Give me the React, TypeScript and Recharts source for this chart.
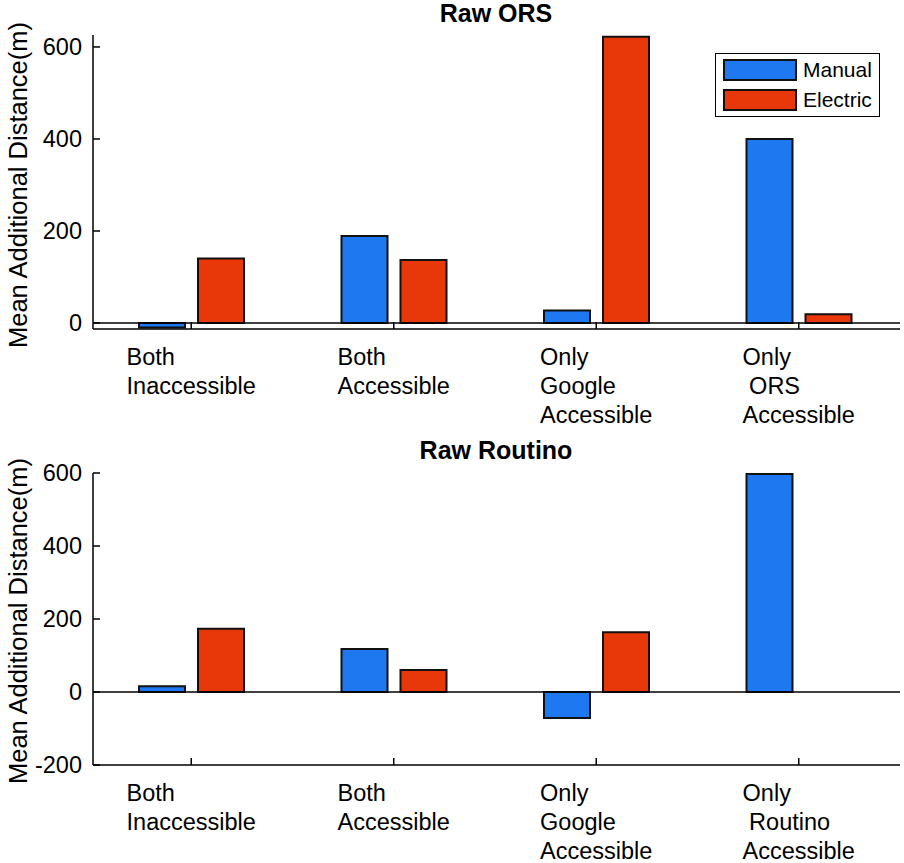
import React from 'react'
import { BarChart, Bar, XAxis, YAxis, ReferenceLine } from 'recharts'

const categories = ['Both Inaccessible', 'Both Accessible', 'Only Google Accessible', 'Only Target Accessible']

const orsTickLines = [
  ['Both', 'Inaccessible'],
  ['Both', 'Accessible'],
  ['Only', 'Google', 'Accessible'],
  ['Only', ' ORS', 'Accessible'],
]
const routinoTickLines = [
  ['Both', 'Inaccessible'],
  ['Both', 'Accessible'],
  ['Only', 'Google', 'Accessible'],
  ['Only', ' Routino', 'Accessible'],
]

const orsManual = [-10, 189, 27, 400]
const orsElectric = [140, 137, 622, 19]
const routinoManual = [16, 118, -71, 597]
const routinoElectric = [173, 60, 164, 0]

const orsTicks = [0, 200, 400, 600]
const routinoTicks = [-200, 0, 200, 400, 600]

const BLUE = '#1e78f0'
const RED = '#e8380a'
const FONT = '"Liberation Sans", Arial, Helvetica, sans-serif'
const TICK_FONT_SIZE = 23.5

let ctx: CanvasRenderingContext2D | null = null
function measure(s: string) {
  if (!ctx) ctx = document.createElement('canvas').getContext('2d')
  if (!ctx) return s.length * 11
  ctx.font = `${TICK_FONT_SIZE}px ${FONT}`
  return ctx.measureText(s).width
}

function buildData(manual: number[], electric: number[]) {
  return categories.map((c, i) => ({ name: c, manual: manual[i], electric: electric[i] }))
}

function makeXTick(lines: string[][]) {
  return (props: any) => {
    const { x, y, payload } = props
    const idx = categories.indexOf(payload.value)
    const ls = lines[idx] || []
    const w = Math.max(...ls.map(measure))
    const left = x - w / 2
    return (
      <g>
        <line x1={x} x2={x} y1={y} y2={y - 7} stroke="#000" strokeWidth={1.5} />
        <text x={left} y={y + 36} fontSize={TICK_FONT_SIZE} fontFamily={FONT} fill="#000" style={{ whiteSpace: 'pre' }}>
          {ls.map((l, i) => (
            <tspan key={i} x={left} dy={i === 0 ? 0 : 29}>{l}</tspan>
          ))}
        </text>
      </g>
    )
  }
}

function YTick(props: any) {
  const { x, y, payload } = props
  return (
    <g>
      <line x1={x} x2={x + 7} y1={y} y2={y} stroke="#000" strokeWidth={1.5} />
      <text x={x - 11} y={y} dy="0.36em" textAnchor="end" fontSize={TICK_FONT_SIZE} fontFamily={FONT} fill="#000">
        {payload.value}
      </text>
    </g>
  )
}

function Panel({ data, domain, ticks, lines, height, top, xHeight, bottom }: any) {
  return (
    <BarChart
      width={904}
      height={height}
      data={data}
      margin={{ top, right: 4, bottom, left: 53 }}
      barSize={46}
      barGap={13}
    >
      <XAxis
        dataKey="name"
        height={xHeight}
        tickSize={0}
        tickMargin={0}
        tickLine={false}
        interval={0}
        padding={{ left: -3, right: 0 }}
        axisLine={{ stroke: '#000', strokeWidth: 1.5 }}
        tick={makeXTick(lines)}
      />
      <YAxis
        type="number"
        width={40}
        domain={domain}
        ticks={ticks}
        tickSize={0}
        tickMargin={0}
        tickLine={false}
        axisLine={{ stroke: '#000', strokeWidth: 1.5 }}
        tick={YTick}
      />
      <Bar dataKey="manual" fill={BLUE} stroke="#111" strokeWidth={2} isAnimationActive={false} />
      <Bar dataKey="electric" fill={RED} stroke="#111" strokeWidth={2} isAnimationActive={false} />
      <ReferenceLine y={0} stroke="#000" strokeWidth={1.5} />
    </BarChart>
  )
}

function Legend() {
  const rows = [
    { label: 'Manual', color: BLUE },
    { label: 'Electric', color: RED },
  ]
  return (
    <div
      style={{
        position: 'absolute', left: 715, top: 53, width: 165, height: 64,
        border: '1px solid #000', background: '#fff', boxSizing: 'border-box',
        fontFamily: FONT, fontSize: 21, zIndex: 2,
      }}
    >
      {rows.map((r, i) => (
        <div key={r.label} style={{ position: 'absolute', left: 7, top: 5 + i * 30, display: 'flex', alignItems: 'center' }}>
          <span style={{ display: 'inline-block', width: 74, height: 22, background: r.color, border: '2px solid #111', boxSizing: 'border-box' }} />
          <span style={{ marginLeft: 6, lineHeight: '22px' }}>{r.label}</span>
        </div>
      ))}
    </div>
  )
}

export default function App() {
  const yLabel = 'Mean Additional Distance(m)'
  return (
    <div style={{ position: 'absolute', left: 0, top: 0, width: 904, height: 863, background: '#fff', overflow: 'hidden' }}>
      <div style={{ position: 'absolute', left: 0, top: 0 }}>
        <Panel
          data={buildData(orsManual, orsElectric)}
          domain={[-13, 626]}
          ticks={orsTicks}
          lines={orsTickLines}
          height={430}
          top={35}
          xHeight={90}
          bottom={11}
        />
      </div>
      <div style={{ position: 'absolute', left: 0, top: 430 }}>
        <Panel
          data={buildData(routinoManual, routinoElectric)}
          domain={[-200, 600]}
          ticks={routinoTicks}
          lines={routinoTickLines}
          height={433}
          top={43}
          xHeight={88}
          bottom={10}
        />
      </div>
      <svg width={904} height={863} style={{ position: 'absolute', left: 0, top: 0, pointerEvents: 'none', zIndex: 1 }}>
        <text x={496} y={22} textAnchor="middle" fontSize={25} fontWeight="bold" fontFamily={FONT}>Raw ORS</text>
        <text x={496} y={459} textAnchor="middle" fontSize={25} fontWeight="bold" fontFamily={FONT}>Raw Routino</text>
        <text x={0} y={0} transform="translate(18,185) rotate(-90)" textAnchor="middle" dominantBaseline="central" fontSize={25.5} fontFamily={FONT}>{yLabel}</text>
        <text x={0} y={0} transform="translate(18,621) rotate(-90)" textAnchor="middle" dominantBaseline="central" fontSize={25.5} fontFamily={FONT}>{yLabel}</text>
      </svg>
      <Legend />
    </div>
  )
}
